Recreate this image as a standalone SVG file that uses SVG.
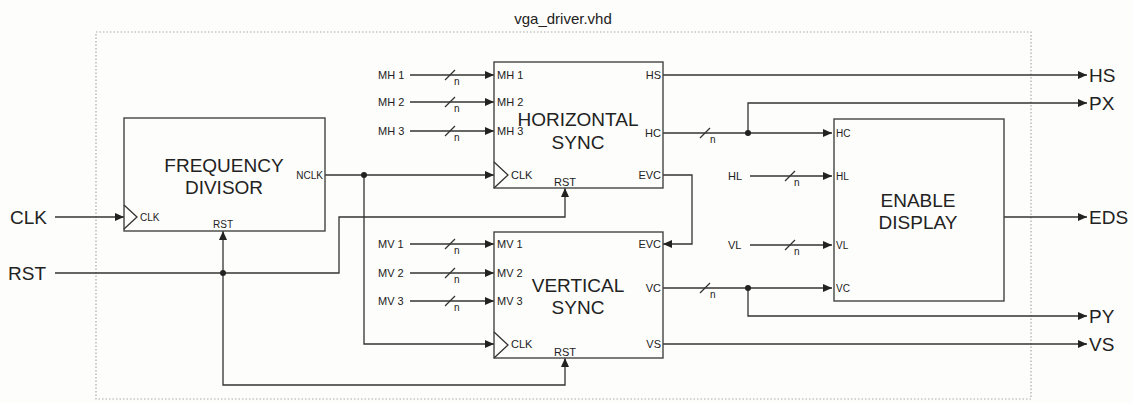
<svg xmlns="http://www.w3.org/2000/svg" width="1133" height="403" viewBox="0 0 1133 403">
<defs>
<marker id="ah" markerUnits="userSpaceOnUse" markerWidth="10" markerHeight="8" refX="9" refY="4" orient="auto"><path d="M0,0 L9,4 L0,8 z" fill="#222"/></marker>
<style>
.bx{fill:none;stroke:#444;stroke-width:1.4}
.w{fill:none;stroke:#333;stroke-width:1.3}
.wa{fill:none;stroke:#333;stroke-width:1.3;marker-end:url(#ah)}
.t{font-family:"Liberation Sans",Arial,sans-serif;fill:#222}
.big{font-size:19px;text-anchor:middle}
.io{font-size:19px}
.p{font-size:11px}
.s{font-size:10px}
.n{font-size:10px;font-family:"Liberation Sans",Arial,sans-serif;fill:#222}
.sl{stroke:#333;stroke-width:1.2}
</style>
</defs>
<rect width="1133" height="403" fill="#fdfdfb"/>
<rect x="96" y="32" width="935" height="367" fill="none" stroke="#aaa" stroke-width="1.2" stroke-dasharray="1.5 2"/>
<text class="t" x="563" y="24" font-size="15" text-anchor="middle">vga_driver.vhd</text>

<g id="connectors">
<path class="wa" d="M55,217 H124"/>
<path class="wa" d="M55,273 H339 V217 H565 V188"/>
<path class="wa" d="M223,273 V231"/>
<path class="wa" d="M223,273 V385 H565 V358"/>
<path class="wa" d="M325,175 H494"/>
<path class="wa" d="M364,175 V344 H494"/>
<path class="wa" d="M410,75 H494"/>
<path class="wa" d="M410,102 H494"/>
<path class="wa" d="M410,131 H494"/>
<path class="wa" d="M410,244 H494"/>
<path class="wa" d="M410,273 H494"/>
<path class="wa" d="M410,301 H494"/>
<path class="wa" d="M663,75 H1087"/>
<path class="wa" d="M663,133 H832"/>
<path class="wa" d="M748,133 V103 H1087"/>
<path class="wa" d="M663,175 H692 V244 H663"/>
<path class="wa" d="M750,176 H832"/>
<path class="wa" d="M750,245 H832"/>
<path class="wa" d="M663,288 H832"/>
<path class="wa" d="M748,288 V316 H1087"/>
<path class="wa" d="M663,344 H1087"/>
<path class="wa" d="M1004,217 H1087"/>
<circle cx="364" cy="175" r="3" fill="#222"/>
<circle cx="223" cy="273" r="3" fill="#222"/>
<circle cx="748" cy="133" r="3" fill="#222"/>
<circle cx="748" cy="288" r="3" fill="#222"/>
<g class="sl">
<line x1="445" y1="80" x2="455" y2="70"/><line x1="445" y1="107" x2="455" y2="97"/><line x1="445" y1="136" x2="455" y2="126"/>
<line x1="445" y1="249" x2="455" y2="239"/><line x1="445" y1="278" x2="455" y2="268"/><line x1="445" y1="306" x2="455" y2="296"/>
<line x1="700" y1="138" x2="710" y2="128"/><line x1="700" y1="293" x2="710" y2="283"/>
<line x1="785" y1="181" x2="795" y2="171"/><line x1="785" y1="250" x2="795" y2="240"/>
</g>
<g class="n">
<text x="454" y="85">n</text><text x="454" y="112">n</text><text x="454" y="141">n</text>
<text x="454" y="254">n</text><text x="454" y="283">n</text><text x="454" y="311">n</text>
<text x="710" y="143">n</text><text x="710" y="298">n</text>
<text x="794" y="186">n</text><text x="794" y="255">n</text>
</g>
</g>

<g id="external-labels" class="t">
<text class="io" x="10" y="224">CLK</text>
<text class="io" x="8" y="280">RST</text>
<text class="io" x="1089" y="82">HS</text>
<text class="io" x="1089" y="110">PX</text>
<text class="io" x="1089" y="224">EDS</text>
<text class="io" x="1089" y="323">PY</text>
<text class="io" x="1089" y="351">VS</text>
<g class="p">
<text x="378" y="79">MH 1</text><text x="378" y="106">MH 2</text><text x="378" y="135">MH 3</text>
<text x="378" y="248">MV 1</text><text x="378" y="277">MV 2</text><text x="378" y="305">MV 3</text>
<text x="728" y="180">HL</text><text x="728" y="249">VL</text>
</g>
</g>

<g id="frequency-divisor">
<rect class="bx" x="124" y="118" width="201" height="113"/>
<path class="w" d="M124,205 L137,217 L124,229"/>
<text class="t big" x="224" y="172">FREQUENCY</text>
<text class="t big" x="224" y="194">DIVISOR</text>
<text class="t s" x="323" y="179" text-anchor="end">NCLK</text>
<text class="t s" x="140" y="221">CLK</text>
<text class="t s" x="223" y="228" text-anchor="middle">RST</text>
</g>

<g id="horizontal-sync">
<rect class="bx" x="494" y="62" width="169" height="126"/>
<path class="w" d="M494,162 L508,175 L494,188"/>
<text class="t big" x="578" y="126">HORIZONTAL</text>
<text class="t big" x="578" y="149">SYNC</text>
<g class="t p">
<text x="497" y="79">MH 1</text><text x="497" y="106">MH 2</text><text x="497" y="135">MH 3</text>
<text x="511" y="179">CLK</text>
<text x="565" y="186" text-anchor="middle">RST</text>
<text x="661" y="79" text-anchor="end">HS</text>
<text x="661" y="137" text-anchor="end">HC</text>
<text x="661" y="179" text-anchor="end">EVC</text>
</g>
</g>

<g id="vertical-sync">
<rect class="bx" x="494" y="232" width="169" height="126"/>
<path class="w" d="M494,332 L508,345 L494,358"/>
<text class="t big" x="578" y="292">VERTICAL</text>
<text class="t big" x="578" y="314">SYNC</text>
<g class="t p">
<text x="497" y="248">MV 1</text><text x="497" y="277">MV 2</text><text x="497" y="305">MV 3</text>
<text x="511" y="348">CLK</text>
<text x="565" y="356" text-anchor="middle">RST</text>
<text x="661" y="248" text-anchor="end">EVC</text>
<text x="661" y="292" text-anchor="end">VC</text>
<text x="661" y="348" text-anchor="end">VS</text>
</g>
</g>

<g id="enable-display">
<rect class="bx" x="834" y="119" width="170" height="182"/>
<text class="t big" x="918" y="207">ENABLE</text>
<text class="t big" x="918" y="229">DISPLAY</text>
<g class="t s">
<text x="836" y="137">HC</text>
<text x="836" y="180">HL</text>
<text x="836" y="249">VL</text>
<text x="836" y="292">VC</text>
</g>
</g>
</svg>
